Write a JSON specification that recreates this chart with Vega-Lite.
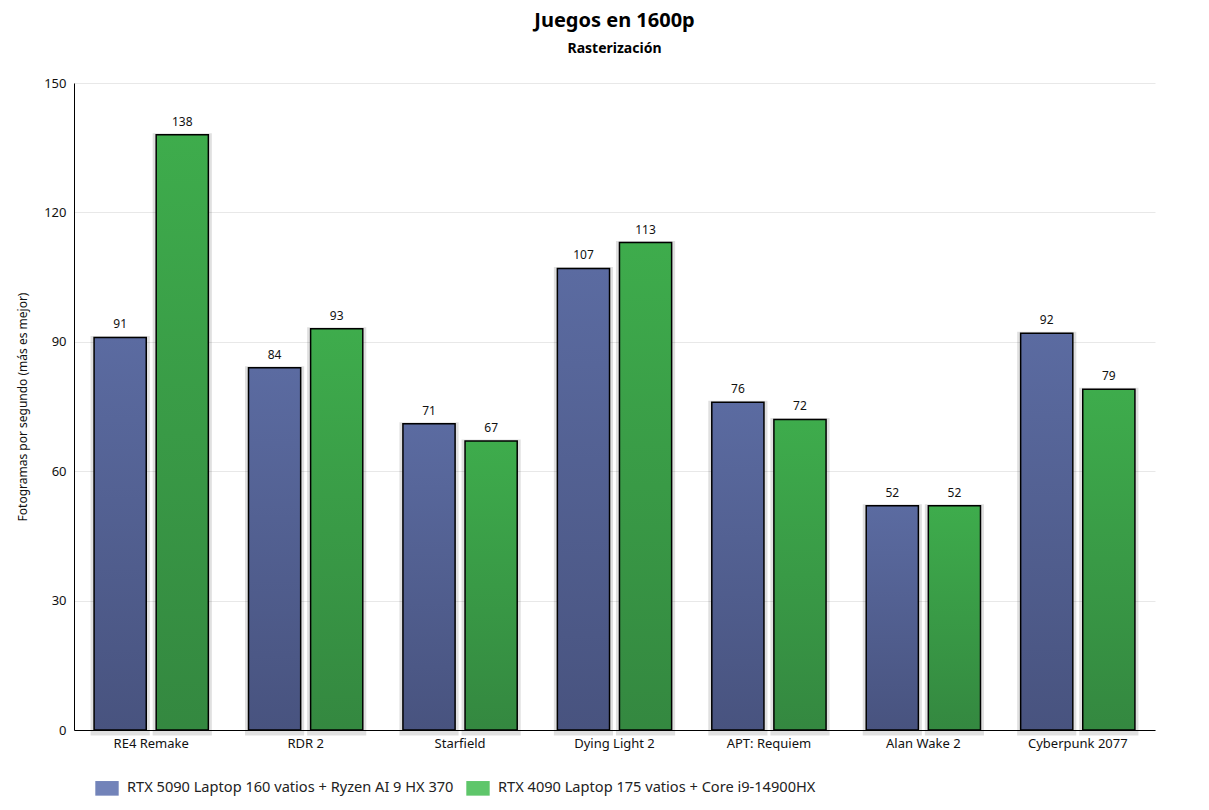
{
  "$schema": "https://vega.github.io/schema/vega-lite/v6.json",
  "width": 1081,
  "height": 647,
  "autosize": {"type": "none"},
  "padding": {"left": 74, "top": 83, "right": 54, "bottom": 80},
  "background": "white",
  "title": {
    "text": "Juegos en 1600p",
    "subtitle": "Rasterización",
    "anchor": "middle",
    "font": "Noto Sans",
    "fontSize": 20,
    "fontWeight": "bold",
    "color": "#000000",
    "subtitleFont": "Noto Sans",
    "subtitleFontSize": 14,
    "subtitleFontWeight": "bold",
    "subtitleColor": "#000000",
    "subtitlePadding": 11,
    "offset": 21
  },
  "data": {
    "values": [
      {"juego": "RE4 Remake", "equipo": "RTX 5090 Laptop 160 vatios + Ryzen AI 9 HX 370", "fps": 91},
      {"juego": "RE4 Remake", "equipo": "RTX 4090 Laptop 175 vatios + Core i9-14900HX", "fps": 138},
      {"juego": "RDR 2", "equipo": "RTX 5090 Laptop 160 vatios + Ryzen AI 9 HX 370", "fps": 84},
      {"juego": "RDR 2", "equipo": "RTX 4090 Laptop 175 vatios + Core i9-14900HX", "fps": 93},
      {"juego": "Starfield", "equipo": "RTX 5090 Laptop 160 vatios + Ryzen AI 9 HX 370", "fps": 71},
      {"juego": "Starfield", "equipo": "RTX 4090 Laptop 175 vatios + Core i9-14900HX", "fps": 67},
      {"juego": "Dying Light 2", "equipo": "RTX 5090 Laptop 160 vatios + Ryzen AI 9 HX 370", "fps": 107},
      {"juego": "Dying Light 2", "equipo": "RTX 4090 Laptop 175 vatios + Core i9-14900HX", "fps": 113},
      {"juego": "APT: Requiem", "equipo": "RTX 5090 Laptop 160 vatios + Ryzen AI 9 HX 370", "fps": 76},
      {"juego": "APT: Requiem", "equipo": "RTX 4090 Laptop 175 vatios + Core i9-14900HX", "fps": 72},
      {"juego": "Alan Wake 2", "equipo": "RTX 5090 Laptop 160 vatios + Ryzen AI 9 HX 370", "fps": 52},
      {"juego": "Alan Wake 2", "equipo": "RTX 4090 Laptop 175 vatios + Core i9-14900HX", "fps": 52},
      {"juego": "Cyberpunk 2077", "equipo": "RTX 5090 Laptop 160 vatios + Ryzen AI 9 HX 370", "fps": 92},
      {"juego": "Cyberpunk 2077", "equipo": "RTX 4090 Laptop 175 vatios + Core i9-14900HX", "fps": 79}
    ]
  },
  "encoding": {
    "x": {
      "field": "juego",
      "type": "nominal",
      "sort": null,
      "scale": {"paddingInner": 0.26, "paddingOuter": 0.13},
      "axis": {
        "title": null,
        "labelAngle": 0,
        "labelFont": "Noto Sans",
        "labelFontSize": 13,
        "labelColor": "#111111",
        "labelPadding": 7,
        "ticks": false,
        "domainColor": "#000000",
        "domainWidth": 1
      }
    },
    "xOffset": {
      "field": "equipo",
      "type": "nominal",
      "sort": null,
      "scale": {
        "domain": ["RTX 5090 Laptop 160 vatios + Ryzen AI 9 HX 370", "RTX 4090 Laptop 175 vatios + Core i9-14900HX"],
        "paddingInner": 0.16,
        "paddingOuter": 0
      }
    },
    "y": {
      "field": "fps",
      "type": "quantitative",
      "scale": {"domain": [0, 150], "nice": false},
      "axis": {
        "title": "Fotogramas por segundo (más es mejor)",
        "titleFont": "Noto Sans",
        "titleFontSize": 12,
        "titleFontWeight": "normal",
        "titleColor": "#111111",
        "titlePadding": 14,
        "values": [0, 30, 60, 90, 120, 150],
        "labelFont": "Noto Sans",
        "labelFontSize": 13,
        "labelColor": "#111111",
        "labelPadding": 8,
        "ticks": false,
        "domainColor": "#000000",
        "grid": true,
        "gridColor": "#e8e8e8"
      }
    }
  },
  "layer": [
    {
      "mark": {"type": "bar", "opacity": 0},
      "encoding": {
        "color": {
          "field": "equipo",
          "type": "nominal",
          "sort": null,
          "scale": {
            "domain": ["RTX 5090 Laptop 160 vatios + Ryzen AI 9 HX 370", "RTX 4090 Laptop 175 vatios + Core i9-14900HX"],
            "range": ["#7283b9", "#5ec66a"]
          },
          "legend": {
            "title": null,
            "orient": "none",
            "direction": "horizontal",
            "legendX": 23,
            "legendY": 695,
            "symbolType": "M-1.2,-0.75H1.2V0.75H-1.2Z",
            "symbolSize": 380,
            "symbolOpacity": 1,
            "symbolStrokeWidth": 0,
            "labelFont": "Noto Sans",
            "labelFontSize": 14.6,
            "labelColor": "#222222",
            "labelLimit": 0,
            "columnPadding": 12,
            "labelOffset": 10
          }
        }
      }
    },
    {
      "mark": {"type": "bar", "fill": null, "stroke": "#000000", "strokeOpacity": 0.12, "strokeWidth": 7, "yOffset": 2}
    },
    {
      "transform": [{"filter": "datum.equipo === 'RTX 5090 Laptop 160 vatios + Ryzen AI 9 HX 370'"}],
      "mark": {
        "type": "bar",
        "stroke": "#000000",
        "strokeWidth": 1.5,
        "fill": {
          "gradient": "linear", "x1": 0, "y1": 0, "x2": 0, "y2": 1,
          "stops": [{"offset": 0, "color": "#5b6ba1"}, {"offset": 1, "color": "#48537f"}]
        }
      }
    },
    {
      "transform": [{"filter": "datum.equipo === 'RTX 4090 Laptop 175 vatios + Core i9-14900HX'"}],
      "mark": {
        "type": "bar",
        "stroke": "#000000",
        "strokeWidth": 1.5,
        "fill": {
          "gradient": "linear", "x1": 0, "y1": 0, "x2": 0, "y2": 1,
          "stops": [{"offset": 0, "color": "#3eac4c"}, {"offset": 1, "color": "#348840"}]
        }
      }
    },
    {
      "mark": {"type": "text", "dy": -6, "baseline": "bottom", "font": "Noto Sans", "fontSize": 12, "color": "#111111"},
      "encoding": {"text": {"field": "fps", "type": "quantitative"}, "y": {"field": "fps", "type": "quantitative"}}
    }
  ],
  "config": {
    "view": {"stroke": null}
  }
}
